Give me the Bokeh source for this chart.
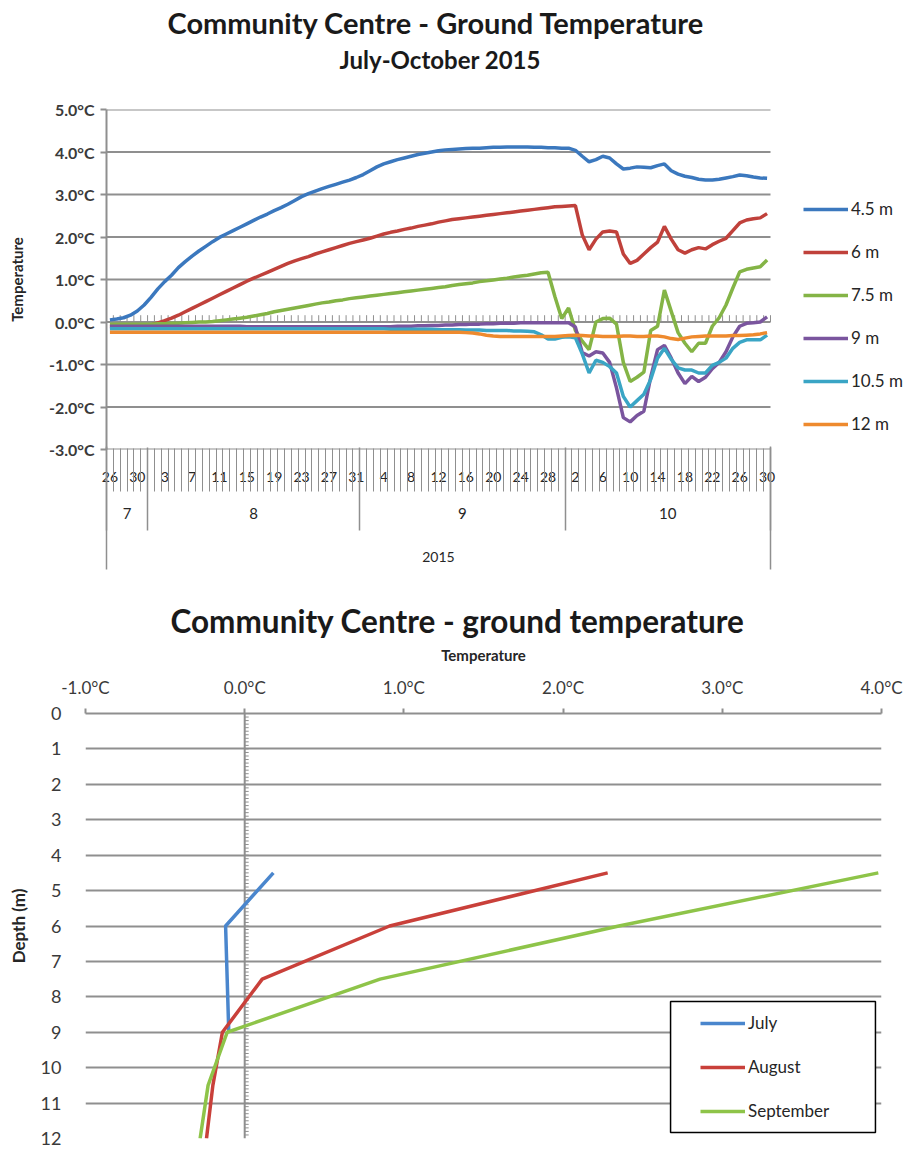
import numpy as np
import pandas as pd
from bokeh.plotting import figure
from bokeh.models import (Range1d, FixedTicker, PrintfTickFormatter, Legend, LegendItem,
                          Title, BoxAnnotation, LinearAxis)
from bokeh.embed import file_html
from bokeh.resources import INLINE

# ---------------- data: top chart (daily ground temperature, °C) ----------------
dates = pd.date_range("2015-07-26", "2015-10-30", freq="D")
day_index = np.arange(len(dates))

t_45m = [
    0.05, 0.07, 0.10, 0.16, 0.26, 0.40, 0.58, 0.78, 0.95, 1.10,
    1.28, 1.42, 1.55, 1.67, 1.78, 1.89, 1.99, 2.07, 2.15, 2.23,
    2.31, 2.39, 2.47, 2.54, 2.62, 2.69, 2.77, 2.86, 2.95, 3.02,
    3.08, 3.14, 3.19, 3.24, 3.29, 3.34, 3.40, 3.47, 3.56, 3.65,
    3.72, 3.77, 3.82, 3.86, 3.90, 3.94, 3.97, 4.00, 4.03, 4.05,
    4.06, 4.07, 4.08, 4.09, 4.09, 4.10, 4.11, 4.11, 4.12, 4.12,
    4.12, 4.12, 4.11, 4.11, 4.10, 4.10, 4.09, 4.09, 4.04, 3.90,
    3.77, 3.82, 3.90, 3.86, 3.72, 3.60, 3.62, 3.65, 3.64, 3.63,
    3.68, 3.72, 3.56, 3.48, 3.43, 3.40, 3.36, 3.34, 3.34, 3.36,
    3.39, 3.42, 3.46, 3.44, 3.41, 3.39, 3.38]
t_6m = [
    -0.12, -0.12, -0.12, -0.12, -0.12, -0.10, -0.07, -0.02, 0.03, 0.09,
    0.16, 0.24, 0.32, 0.40, 0.48, 0.56, 0.64, 0.72, 0.80, 0.88,
    0.96, 1.03, 1.10, 1.17, 1.24, 1.31, 1.38, 1.44, 1.49, 1.54,
    1.60, 1.65, 1.70, 1.75, 1.80, 1.85, 1.89, 1.93, 1.97, 2.02,
    2.07, 2.11, 2.14, 2.18, 2.21, 2.25, 2.28, 2.31, 2.35, 2.38,
    2.41, 2.43, 2.45, 2.47, 2.49, 2.51, 2.53, 2.55, 2.57, 2.59,
    2.61, 2.63, 2.65, 2.67, 2.69, 2.71, 2.72, 2.73, 2.74, 2.05,
    1.70, 1.95, 2.12, 2.14, 2.12, 1.60, 1.38, 1.45, 1.60, 1.75,
    1.88, 2.25, 1.95, 1.70, 1.62, 1.70, 1.75, 1.72, 1.82, 1.90,
    1.97, 2.15, 2.33, 2.40, 2.43, 2.45, 2.55]
t_75m = [
    -0.05, -0.05, -0.05, -0.05, -0.05, -0.05, -0.05, -0.04, -0.04, -0.03,
    -0.03, -0.02, -0.01, 0.00, 0.00, 0.01, 0.03, 0.05, 0.07, 0.09,
    0.11, 0.14, 0.17, 0.20, 0.24, 0.27, 0.30, 0.33, 0.36, 0.39,
    0.42, 0.45, 0.47, 0.50, 0.52, 0.55, 0.57, 0.59, 0.61, 0.63,
    0.65, 0.67, 0.69, 0.71, 0.73, 0.75, 0.77, 0.79, 0.81, 0.83,
    0.86, 0.88, 0.90, 0.92, 0.95, 0.97, 0.99, 1.01, 1.03, 1.06,
    1.08, 1.10, 1.13, 1.16, 1.17, 0.60, 0.08, 0.33, -0.20, -0.45,
    -0.65, 0.00, 0.08, 0.09, -0.05, -0.95, -1.40, -1.30, -1.18, -0.20,
    -0.10, 0.75, 0.25, -0.25, -0.50, -0.70, -0.50, -0.50, -0.10, 0.10,
    0.40, 0.80, 1.18, 1.24, 1.27, 1.30, 1.46]
t_9m = [
    -0.10, -0.10, -0.10, -0.10, -0.10, -0.10, -0.10, -0.10, -0.10, -0.10,
    -0.10, -0.10, -0.10, -0.10, -0.10, -0.10, -0.10, -0.10, -0.10, -0.10,
    -0.11, -0.11, -0.11, -0.11, -0.11, -0.11, -0.11, -0.11, -0.11, -0.11,
    -0.11, -0.11, -0.11, -0.11, -0.11, -0.11, -0.11, -0.11, -0.11, -0.11,
    -0.11, -0.11, -0.10, -0.10, -0.10, -0.09, -0.09, -0.08, -0.08, -0.07,
    -0.07, -0.06, -0.06, -0.05, -0.05, -0.04, -0.04, -0.03, -0.03, -0.03,
    -0.02, -0.02, -0.02, -0.02, -0.02, -0.02, -0.02, -0.02, -0.12, -0.72,
    -0.80, -0.70, -0.73, -0.95, -1.55, -2.25, -2.35, -2.20, -2.10, -1.30,
    -0.65, -0.55, -0.85, -1.20, -1.45, -1.28, -1.40, -1.30, -1.10, -0.95,
    -0.70, -0.35, -0.10, -0.03, -0.02, 0.00, 0.12]
t_105m = [
    -0.16, -0.16, -0.16, -0.16, -0.16, -0.16, -0.16, -0.16, -0.16, -0.16,
    -0.16, -0.16, -0.16, -0.16, -0.16, -0.16, -0.16, -0.16, -0.16, -0.16,
    -0.16, -0.16, -0.16, -0.16, -0.16, -0.16, -0.16, -0.16, -0.16, -0.16,
    -0.16, -0.16, -0.16, -0.16, -0.16, -0.16, -0.16, -0.16, -0.16, -0.16,
    -0.16, -0.17, -0.17, -0.17, -0.17, -0.17, -0.17, -0.17, -0.18, -0.18,
    -0.18, -0.18, -0.19, -0.19, -0.19, -0.20, -0.20, -0.20, -0.20, -0.21,
    -0.21, -0.22, -0.23, -0.30, -0.40, -0.40, -0.36, -0.35, -0.37, -0.75,
    -1.20, -0.90, -0.95, -1.05, -1.20, -1.75, -2.00, -1.85, -1.70, -1.35,
    -0.85, -0.62, -0.88, -1.08, -1.13, -1.13, -1.20, -1.20, -1.02, -0.95,
    -0.85, -0.62, -0.48, -0.42, -0.42, -0.42, -0.31]
t_12m = [
    -0.24, -0.24, -0.24, -0.24, -0.24, -0.24, -0.24, -0.24, -0.24, -0.24,
    -0.24, -0.24, -0.24, -0.24, -0.24, -0.24, -0.24, -0.24, -0.24, -0.24,
    -0.24, -0.24, -0.24, -0.24, -0.24, -0.24, -0.24, -0.24, -0.24, -0.24,
    -0.24, -0.24, -0.24, -0.24, -0.24, -0.24, -0.24, -0.24, -0.24, -0.24,
    -0.24, -0.24, -0.24, -0.24, -0.24, -0.24, -0.24, -0.24, -0.24, -0.24,
    -0.24, -0.24, -0.25, -0.26, -0.28, -0.31, -0.33, -0.34, -0.34, -0.34,
    -0.34, -0.34, -0.34, -0.34, -0.34, -0.34, -0.33, -0.32, -0.31, -0.32,
    -0.33, -0.33, -0.34, -0.34, -0.34, -0.33, -0.33, -0.34, -0.34, -0.33,
    -0.33, -0.35, -0.39, -0.41, -0.38, -0.35, -0.34, -0.33, -0.33, -0.33,
    -0.33, -0.32, -0.32, -0.31, -0.30, -0.28, -0.25]

series_names = ["4.5 m", "6 m", "7.5 m", "9 m", "10.5 m", "12 m"]
series_values = [t_45m, t_6m, t_75m, t_9m, t_105m, t_12m]
series_colors = ["#3B78BE", "#C0413B", "#84B446", "#7A559E", "#3AA5C5", "#EE8A2E"]
temp_ticks = [-3, -2, -1, 0, 1, 2, 3, 4, 5]

# ---------------- data: bottom chart (monthly depth profiles) ----------------
depth_ticks = [0, 1, 2, 3, 4, 5, 6, 7, 8, 9, 10, 11, 12]
profile_temp_ticks = [-1, 0, 1, 2, 3, 4]
july_depth = [4.5, 6, 7.5, 9]
july_temp = [0.18, -0.12, -0.11, -0.10]
aug_depth = [4.5, 6, 7.5, 9, 10.5, 12]
aug_temp = [2.28, 0.91, 0.11, -0.14, -0.20, -0.24]
sep_depth = [4.5, 6, 7.5, 9, 10.5, 12]
sep_temp = [3.98, 2.35, 0.85, -0.11, -0.23, -0.28]
profile_names = ["July", "August", "September"]
profile_colors = ["#4A86CD", "#C9403A", "#8EC449"]

FONT = "Lato"
GRID = "#8F8F8F"
TXT = "#262626"


def plain_axis(ticks, minor, labels, tick_in, tick_out, standoff, size, width):
    ax = LinearAxis(ticker=FixedTicker(ticks=ticks, minor_ticks=minor))
    ax.major_label_overrides = {float(t): lab for t, lab in zip(ticks, labels)}
    ax.axis_line_color = None
    ax.major_tick_line_color = None
    ax.major_tick_out = 0
    ax.major_tick_in = 0
    ax.minor_tick_in = tick_in
    ax.minor_tick_out = tick_out
    ax.minor_tick_line_color = GRID if (tick_in or tick_out) else None
    ax.minor_tick_line_width = width
    ax.major_label_standoff = standoff
    ax.major_label_text_font = FONT
    ax.major_label_text_font_size = size
    ax.major_label_text_color = TXT
    return ax


# ======================= TOP FIGURE =======================
PX_PER_DAY = 664 / 97.0
n_days = len(dates)
x_end = -0.5 + 810 / PX_PER_DAY

p1 = figure(width=916, height=595, x_range=Range1d(-0.5, x_end),
            y_range=Range1d(-3.0, 5.0), output_backend="svg", toolbar_location=None,
            title=None, x_axis_location=None, min_border_left=106, min_border_right=0,
            min_border_top=109, min_border_bottom=146)
p1.outline_line_color = None
p1.xgrid.visible = False
p1.ygrid.visible = False

# horizontal gridlines across the category span only
p1.segment(x0=-0.5, y0=temp_ticks, x1=n_days - 0.5, y1=temp_ticks,
           line_color=GRID, line_width=2)

ya = p1.yaxis[0]
ya.ticker = FixedTicker(ticks=temp_ticks)
ya.formatter = PrintfTickFormatter(format="%.1f°C")
ya.major_tick_out = 6
ya.major_tick_in = 0
ya.minor_tick_out = 0
ya.minor_tick_in = 0
ya.axis_line_color = GRID
ya.axis_line_width = 2
ya.major_tick_line_color = GRID
ya.major_tick_line_width = 2
ya.major_label_standoff = 6
ya.major_label_text_font = FONT
ya.major_label_text_font_size = "16px"
ya.major_label_text_font_style = "bold"
ya.major_label_text_color = "#3A3A3A"
ya.axis_label = "Temperature"
ya.axis_label_standoff = 20
ya.axis_label_text_font = FONT
ya.axis_label_text_font_size = "15px"
ya.axis_label_text_font_style = "bold"
ya.axis_label_text_color = TXT

bounds_all = list(np.append(day_index - 0.5, n_days - 0.5))

# tick marks on the zero line (horizontal axis crossing at 0)
p1.segment(x0=bounds_all, y0=0, x1=bounds_all, y1=0.16, line_color=GRID, line_width=1)

# --- multi-level category axis: day / month / year ---
label_idx = list(day_index[::4])
day_labels = [str(dates[i].day) for i in label_idx]

months = dates.month.values
month_starts = [0] + [i for i in range(1, n_days) if months[i] != months[i - 1]]
month_edges = [s - 0.5 for s in month_starts] + [n_days - 0.5]
month_centers = [(month_edges[i] + month_edges[i + 1]) / 2 for i in range(len(month_starts))]
month_labels = [str(months[s]) for s in month_starts]
year_center = (n_days - 1) / 2
year_edges = [-0.5, n_days - 0.5]

# row 1: day labels
ax_a = plain_axis(label_idx, [], day_labels, 0, 0, 22, "14px", 1)
# row 2: day tick marks reaching up to the plot, month labels
ax_b = plain_axis(month_centers, bounds_all, month_labels, 36, 7, 16, "15px", 1)
# row 3: month separators, year label
ax_c = plain_axis([year_center], month_edges, [str(dates[0].year)], 74, 9, 21, "14px", 1.5)
# row 4: outer year separators
ax_d = plain_axis([], year_edges, [], 118, 5, 0, "14px", 1.5)
for ax in (ax_a, ax_b, ax_c, ax_d):
    p1.add_layout(ax, "below")

items = []
for name, vals, col in zip(series_names, series_values, series_colors):
    r = p1.line(day_index, vals, line_color=col, line_width=3.5)
    items.append(LegendItem(label=name, renderers=[r]))

leg1 = Legend(items=items, location=(697, 15), orientation="vertical", glyph_width=45,
              glyph_height=20, label_height=20, spacing=22, padding=5, margin=0,
              border_line_color=None, background_fill_alpha=0, label_standoff=3,
              label_text_font=FONT, label_text_font_size="17px", label_text_color=TXT)
p1.add_layout(leg1, "center")

# titles stacked above the frame (nearest first)
p1.add_layout(Title(text=" ", text_font=FONT, text_font_size="20px", standoff=10), "above")
p1.add_layout(Title(text="July-October 2015", align="left", offset=233, standoff=0,
                    text_font=FONT, text_font_size="24px", text_font_style="bold",
                    text_color="#1A1A1A"), "above")
p1.add_layout(Title(text="Community Centre - Ground Temperature", align="left", offset=61,
                    standoff=5, text_font=FONT, text_font_size="29px",
                    text_font_style="bold", text_color="#1A1A1A"), "above")

# ======================= BOTTOM FIGURE =======================
p2 = figure(width=916, height=554, x_range=Range1d(-1, 4), y_range=Range1d(12, 0),
            output_backend="svg", toolbar_location=None, title=None, x_axis_location="above",
            min_border_left=85, min_border_right=35, min_border_top=118, min_border_bottom=11)
p2.outline_line_color = None
p2.xgrid.visible = False
p2.ygrid.ticker = FixedTicker(ticks=depth_ticks)
p2.ygrid.grid_line_color = GRID
p2.ygrid.grid_line_width = 2

xa = p2.xaxis[0]
xa.ticker = FixedTicker(ticks=profile_temp_ticks)
xa.formatter = PrintfTickFormatter(format="%.1f°C")
xa.major_tick_out = 5
xa.major_tick_in = 0
xa.minor_tick_out = 0
xa.axis_line_color = GRID
xa.axis_line_width = 2
xa.major_tick_line_color = GRID
xa.major_tick_line_width = 2
xa.major_label_standoff = 11
xa.major_label_text_font = FONT
xa.major_label_text_font_size = "17px"
xa.major_label_text_color = "#3A3A3A"
xa.axis_label = "Temperature"
xa.axis_label_standoff = 10
xa.axis_label_text_font = FONT
xa.axis_label_text_font_size = "15px"
xa.axis_label_text_font_style = "bold"
xa.axis_label_text_color = TXT

ya2 = p2.yaxis[0]
ya2.ticker = FixedTicker(ticks=depth_ticks)
ya2.axis_line_color = None
ya2.major_tick_line_color = None
ya2.minor_tick_line_color = None
ya2.major_label_standoff = 18
ya2.major_label_text_font = FONT
ya2.major_label_text_font_size = "18px"
ya2.major_label_text_color = "#3A3A3A"
ya2.axis_label = "Depth (m)"
ya2.axis_label_standoff = 9
ya2.axis_label_text_font = FONT
ya2.axis_label_text_font_size = "17px"
ya2.axis_label_text_font_style = "bold"
ya2.axis_label_text_color = TXT

# vertical axis line crossing at 0 °C with minor ticks
p2.segment(x0=[0], y0=[0], x1=[0], y1=[12], line_color=GRID, line_width=2)
minor_depths = np.arange(1, 120) / 10.0
p2.segment(x0=0, y0=minor_depths, x1=0.025, y1=minor_depths, line_color=GRID, line_width=1)

items2 = []
for name, dep, tem, col in zip(profile_names, [july_depth, aug_depth, sep_depth],
                               [july_temp, aug_temp, sep_temp], profile_colors):
    r = p2.line(tem, dep, line_color=col, line_width=3.5)
    items2.append(LegendItem(label=name, renderers=[r]))

p2.add_layout(BoxAnnotation(left=2.675, right=3.962, top=8.13, bottom=11.83,
                            fill_color="white", fill_alpha=1.0, line_color="black",
                            line_width=1.5, line_alpha=1.0))
leg2 = Legend(items=items2, location=(615, 17), orientation="vertical", glyph_width=45,
              glyph_height=20, label_height=20, spacing=23, padding=0, margin=0,
              border_line_color=None, background_fill_alpha=0, label_standoff=3,
              label_text_font=FONT, label_text_font_size="17px", label_text_color=TXT)
p2.add_layout(leg2, "center")

p2.add_layout(Title(text="Community Centre - ground temperature", align="left", offset=85,
                    standoff=6, text_font=FONT, text_font_size="31.5px",
                    text_font_style="bold", text_color="#1A1A1A"), "above")

open("out.html", "w").write(file_html([p1, p2], INLINE))
